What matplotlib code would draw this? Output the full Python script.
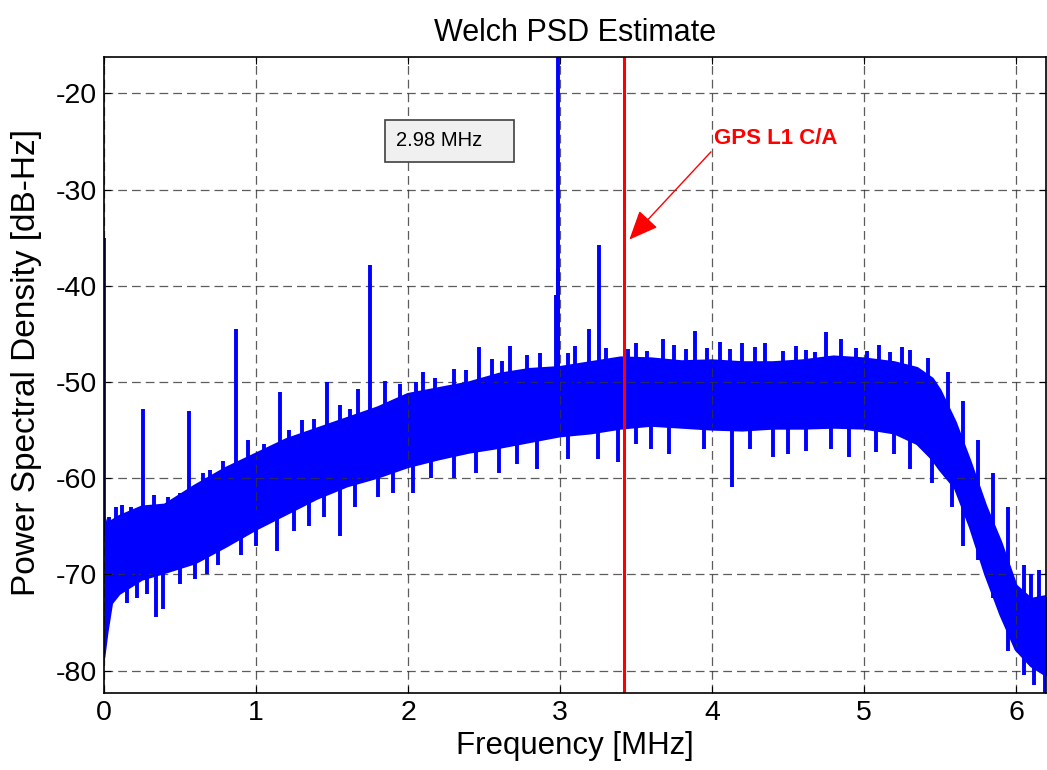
import matplotlib
matplotlib.use("Agg")
import matplotlib.pyplot as plt
from matplotlib.patches import Rectangle
import numpy as np

plt.rcParams['font.family'] = ['Liberation Sans', 'DejaVu Sans']
plt.rcParams['axes.unicode_minus'] = False

# envelope of the dense noise band [MHz, dB-Hz]
freq_env = [0.0, 0.02, 0.05, 0.1, 0.25, 0.4, 0.6, 0.8, 1.0, 1.2, 1.4, 1.6, 1.8,
            2.0, 2.2, 2.4, 2.6, 2.8, 3.0, 3.2, 3.4, 3.6, 3.8, 4.0, 4.2, 4.4,
            4.6, 4.8, 5.0, 5.2, 5.35, 5.45, 5.5, 5.6, 5.7, 5.8, 5.9, 6.0, 6.1, 6.2]
upper_env = [-64.0, -65.0, -64.5, -64.0, -63.0, -62.8, -60.8, -59.0, -57.5, -56.0,
             -54.9, -53.8, -52.7, -51.3, -50.7, -50.1, -49.2, -48.7, -48.5, -48.0,
             -47.5, -47.6, -47.9, -47.8, -48.0, -48.0, -47.8, -47.4, -47.6, -48.0,
             -48.6, -49.7, -50.9, -54.2, -58.4, -62.9, -66.7, -71.2, -72.6, -72.3]
lower_env = [-78.5, -76.0, -73.0, -72.0, -70.5, -69.8, -68.8, -67.1, -65.3, -63.7,
             -62.1, -60.8, -59.9, -58.8, -58.0, -57.3, -56.8, -56.2, -55.6, -55.3,
             -54.8, -54.5, -54.7, -54.9, -55.0, -54.8, -54.8, -54.7, -54.8, -55.3,
             -56.4, -58.0, -59.1, -61.0, -65.1, -70.0, -74.2, -77.8, -79.5, -80.5]

# narrow peaks above the band
peak_freq = [0.0, 0.254, 0.561, 0.866, 1.16, 1.465, 1.67, 1.75, 1.85, 2.47, 2.67,
             2.975, 2.984, 2.99, 3.19, 3.255, 3.68, 3.89, 4.2, 4.75, 4.85,
             0.03, 0.08, 0.12, 0.18, 0.33, 0.42, 0.5, 0.65, 0.7, 0.78, 0.95, 1.05,
             1.22, 1.3, 1.38, 1.55, 1.62, 1.95, 2.05, 2.1, 2.18, 2.3, 2.38, 2.55,
             2.62, 2.78, 2.87, 3.05, 3.1, 3.3, 3.45, 3.5, 3.57, 3.75, 3.83, 3.97,
             4.05, 4.12, 4.28, 4.35, 4.47, 4.55, 4.62, 4.68, 4.95, 5.02, 5.1, 5.17,
             5.25, 5.3, 5.42, 5.55, 5.65, 5.75, 5.85, 5.95, 6.05, 6.1, 6.15]
peak_db = [-35.0, -52.8, -53.0, -44.5, -51.0, -50.0, -50.7, -37.8, -49.9, -46.4, -46.3,
           -41.0, -10.0, -38.3, -44.5, -35.8, -45.5, -44.7, -45.9, -44.8, -45.5,
           -64.0, -63.0, -62.8, -63.0, -61.8, -62.0, -61.5, -59.5, -59.2, -58.2, -56.0, -56.5,
           -55.0, -54.0, -53.8, -52.4, -52.8, -50.2, -50.0, -49.0, -49.6, -48.7, -48.8, -47.6,
           -47.8, -47.2, -47.0, -47.0, -46.3, -46.5, -46.6, -46.0, -46.8, -46.2, -46.6, -46.5,
           -45.8, -46.6, -46.4, -46.0, -46.8, -46.3, -46.7, -46.9, -46.5, -46.8, -46.2, -46.9,
           -46.4, -46.7, -47.5, -49.0, -52.0, -56.0, -59.5, -63.0, -69.0, -70.0, -69.5]

# dips below the band
dip_freq = [0.34, 0.39, 1.14, 1.55, 2.03, 3.38, 4.13, 0.15, 0.22, 0.28, 0.5, 0.6,
            0.68, 0.75, 0.9, 1.0, 1.25, 1.35, 1.45, 1.65, 1.8, 1.9, 2.15, 2.3,
            2.45, 2.6, 2.72, 2.85, 3.05, 3.25, 3.5, 3.6, 3.72, 3.95, 4.25, 4.4,
            4.5, 4.62, 4.78, 4.9, 5.08, 5.2, 5.3, 5.45, 5.58, 5.65, 5.75, 5.85,
            5.95, 6.05, 6.12, 6.19]
dip_db = [-74.4, -73.6, -67.6, -66.0, -61.5, -58.3, -60.9, -73.0, -72.5, -72.0, -71.0, -70.5,
          -70.0, -69.0, -68.0, -67.0, -65.5, -65.0, -64.0, -63.0, -62.0, -61.5, -60.0, -60.0,
          -59.5, -59.5, -58.5, -59.0, -58.0, -58.0, -56.5, -57.0, -57.5, -57.0, -57.0, -57.8,
          -57.5, -57.2, -57.0, -57.8, -57.3, -57.5, -59.0, -60.5, -63.0, -67.0, -68.5, -72.5,
          -78.0, -80.5, -81.5, -82.5]

gps_if = 3.42
peak_label = "2.98 MHz"

fig = plt.figure(figsize=(10.47, 7.70), dpi=100, facecolor='white')
ax = fig.add_axes([0.0993, 0.1004, 0.9002, 0.8252])

blue = '#0000ff'
ax.fill_between(freq_env, lower_env, upper_env, color=blue, linewidth=0)
ax.plot(freq_env, upper_env, color=blue, linewidth=2.2)
ax.plot(freq_env, lower_env, color=blue, linewidth=2.2)
mid_up = np.interp(peak_freq, freq_env, upper_env)
ax.vlines(peak_freq, np.array(mid_up) - 2, peak_db, color=blue, linewidth=2.8)
mid_lo = np.interp(dip_freq, freq_env, lower_env)
ax.vlines(dip_freq, dip_db, np.array(mid_lo) + 2, color=blue, linewidth=2.8)

ax.axvline(gps_if, color='#ff0000', linewidth=2.2)

ax.set_xlim(0, 6.2)
ax.set_ylim(-82.3, -16.25)
ax.set_xticks([0, 1, 2, 3, 4, 5, 6])
ax.set_yticks([-80, -70, -60, -50, -40, -30, -20])
ax.grid(True, color='#333333', linestyle=(0, (7, 4)), linewidth=0.9, alpha=0.8)
ax.tick_params(direction='in', top=True, right=True, length=5, labelsize=20.5, pad=5)
for s in ax.spines.values():
    s.set_linewidth(1.2)

ax.set_title("Welch PSD Estimate", fontsize=22, pad=12)
ax.set_xlabel("Frequency [MHz]", fontsize=22.5, labelpad=4)
ax.set_ylabel("Power Spectral Density [dB-Hz]", fontsize=24)
ax.yaxis.set_label_coords(-0.066, 0.52)

# annotation box
ax.add_patch(Rectangle((1.847, -27.17), 0.851, 4.4, facecolor='#f0f0f0',
                       edgecolor='#404040', linewidth=1.2, zorder=5))
ax.text(1.918, -24.9, peak_label, fontsize=14.5, va='center', ha='left', zorder=6)

ax.annotate("GPS L1 C/A", xy=(3.456, -35.2), xytext=(4.01, -24.7),
            color='#ff0000', fontsize=16, fontweight='bold', va='center', ha='left',
            arrowprops=dict(arrowstyle='-|>,head_length=0.7,head_width=0.3',
                            color='#ff0000', lw=1.0,
                            mutation_scale=26, shrinkA=0, shrinkB=0,
                            relpos=(0.0, 0.0)))

fig.savefig("out.png", dpi=100)
